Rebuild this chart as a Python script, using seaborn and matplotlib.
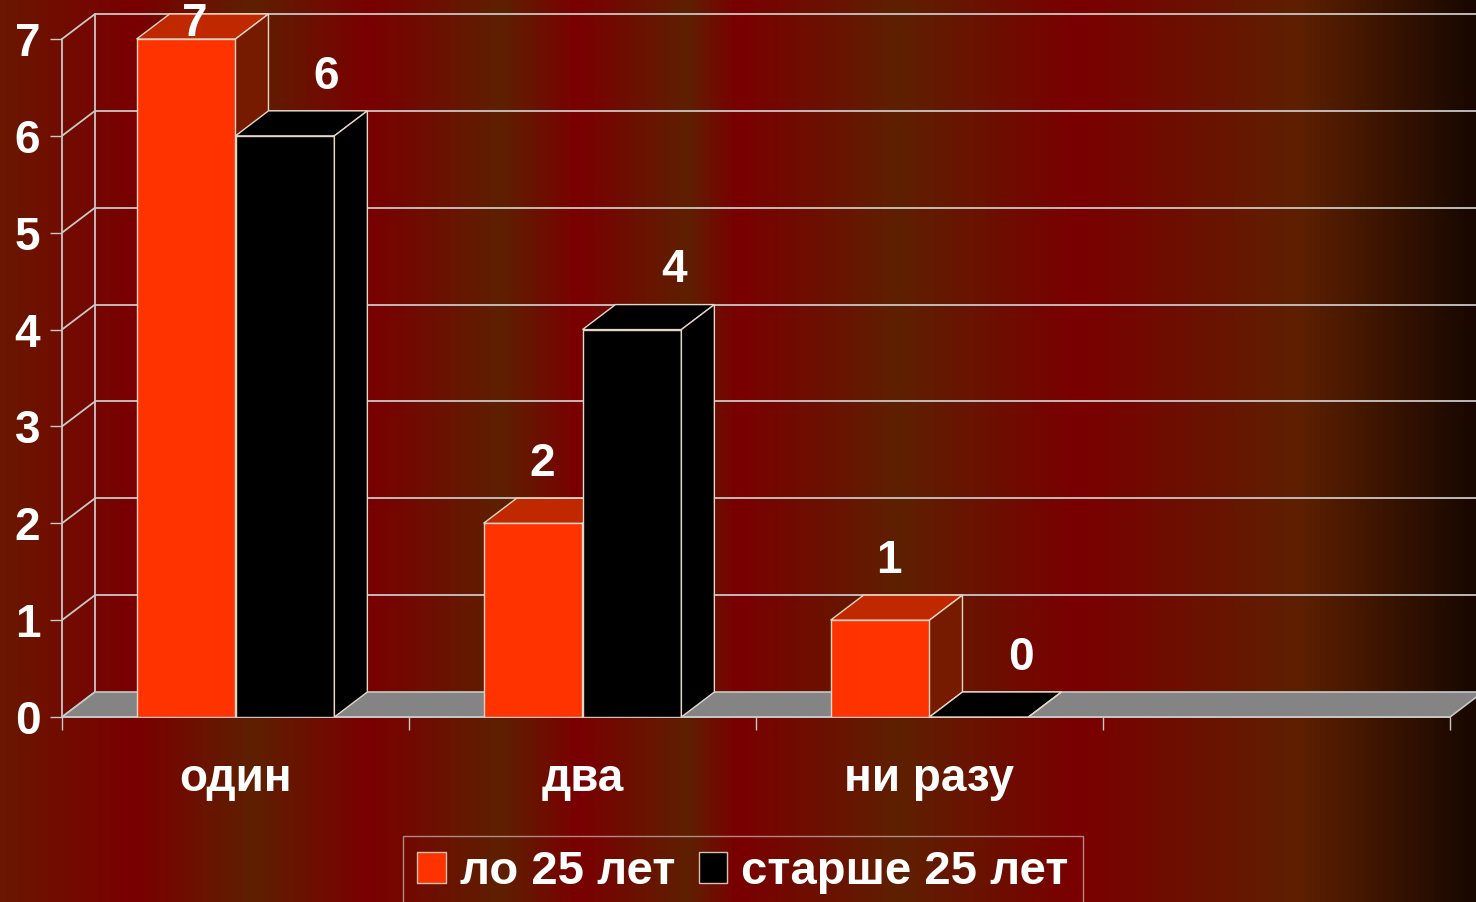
import numpy as np
import pandas as pd
import matplotlib
matplotlib.use("Agg")
import matplotlib.pyplot as plt
import seaborn as sns
from matplotlib.colors import LinearSegmentedColormap, to_hex
from matplotlib.patches import Polygon, Patch

# data
categories = ["один", "два", "ни разу"]
slots = categories + [""]          # fourth, empty slot on the axis
series = ["ло 25 лет", "старше 25 лет"]
young = [7, 2, 1]
old = [6, 4, 0]
y_ticks = [0, 1, 2, 3, 4, 5, 6, 7]

front_colors = {series[0]: "#ff3300", series[1]: "#000000"}
top_colors = {series[0]: "#c02800", series[1]: "#000000"}
side_colors = {series[0]: "#761a00", series[1]: "#000000"}
label_dx = {series[0]: 0.025, series[1]: 0.12}

df = pd.DataFrame({
    "cat": categories * 2,
    "series": [series[0]] * len(young) + [series[1]] * len(old),
    "val": young + old,
})

sns.set_theme(style="white")
plt.rcParams["font.family"] = ["Liberation Sans", "DejaVu Sans"]
plt.rcParams["font.weight"] = "bold"

W, H = 1476, 902
fig = plt.figure(figsize=(W / 100, H / 100), dpi=100)

# striped red/brown background
bg = fig.add_axes([0, 0, 1, 1], zorder=-10)
stops = [(0, "#6a1600"), (133, "#7a0000"), (250, "#5e2000"), (367, "#7a0000"),
         (500, "#5e2000"), (577, "#7a0000"), (688, "#5e2000"), (737, "#7a0000"),
         (900, "#5e2000"), (1080, "#7a0000"), (1300, "#5e2000"), (1476, "#180800")]
cmap = LinearSegmentedColormap.from_list("bg", [(p / W, c) for p, c in stops])
bg.imshow(np.linspace(0, 1, W)[None, :], aspect="auto", cmap=cmap, extent=[0, 1, 0, 1])
bg.axis("off")

# front plane of the pseudo-3D plot
ax = fig.add_axes([62 / W, 185 / H, 1388 / W, 678 / H])
ax.set_facecolor("none")

line_c = "#c8c8c8"
edge_c = "#e6d6c6"
dx, dy = 0.095, 0.258   # depth offset in data units

sns.barplot(data=df, x="cat", y="val", hue="series", order=slots, hue_order=series,
            palette=front_colors, width=0.57, saturation=1, edgecolor=edge_c,
            linewidth=1, legend=False, ax=ax)
ax.set_xlim(-0.5, 3.5)
ax.set_ylim(0, 7)

# back wall grid, left wall edges, floor
for t in y_ticks[1:]:
    ax.plot([-0.5 + dx, 3.5 + dx], [t + dy, t + dy], color=line_c, lw=1.3, zorder=0.5, clip_on=False)
for t in y_ticks:
    ax.plot([-0.5, -0.5 + dx], [t, t + dy], color=line_c, lw=1.3, zorder=0.5, clip_on=False)
ax.plot([-0.5 + dx, -0.5 + dx], [dy, y_ticks[-1] + dy], color=line_c, lw=1.3, zorder=0.5, clip_on=False)
floor = Polygon([(-0.5, 0), (3.5, 0), (3.5 + dx, dy), (-0.5 + dx, dy)], closed=True,
                facecolor="#848484", edgecolor=line_c, lw=1.2, zorder=1, clip_on=False)
ax.add_patch(floor)

# side and top faces of every bar
bars = sorted(ax.patches[:-1], key=lambda p: p.get_x())
for k, p in enumerate(bars):
    s = series[1] if to_hex(p.get_facecolor()) == "#000000" else series[0]
    x0, w, h = p.get_x(), p.get_width(), p.get_height()
    z = 3 + k
    p.set_zorder(z)
    top = Polygon([(x0, h), (x0 + w, h), (x0 + w + dx, h + dy), (x0 + dx, h + dy)], closed=True,
                  facecolor=top_colors[s], edgecolor=edge_c, lw=1, zorder=z + 0.1, clip_on=False)
    side = Polygon([(x0 + w, 0), (x0 + w + dx, dy), (x0 + w + dx, h + dy), (x0 + w, h)], closed=True,
                   facecolor=side_colors[s], edgecolor=edge_c, lw=1, zorder=z + 0.2, clip_on=False)
    ax.add_patch(top)
    ax.add_patch(side)
    ax.text(x0 + w / 2 + label_dx[s], min(h + 0.61, 7.16), f"{int(h)}", ha="center", va="center",
            color="white", fontsize=33, fontweight="bold", zorder=50, clip_on=False)

# axes styling
for side_name in ["top", "right"]:
    ax.spines[side_name].set_visible(False)
for side_name in ["left", "bottom"]:
    ax.spines[side_name].set_color(line_c)
    ax.spines[side_name].set_linewidth(1.3)
    ax.spines[side_name].set_zorder(2)

ax.set_yticks(y_ticks)
ax.tick_params(axis="y", length=8.6, width=1, color=line_c, labelcolor="white", labelsize=33, pad=7, left=True)
ax.set_xticks(range(len(slots)), labels=slots)
ax.set_xticks([-0.5, 0.5, 1.5, 2.5, 3.5], minor=True)
ax.tick_params(axis="x", which="major", length=0, labelcolor="white", labelsize=33, pad=29)
ax.tick_params(axis="x", which="minor", length=9.4, width=1, color=line_c, bottom=True)
ax.set_xlabel("")
ax.set_ylabel("")
ax.grid(False)

handles = [Patch(facecolor=front_colors[s], edgecolor="#d8c0b0", lw=1) for s in series]
leg = fig.legend(handles, series, loc="upper center", bbox_to_anchor=(743 / W, 66 / H), ncol=2,
                 frameon=True, fancybox=False, fontsize=34, handlelength=0.6, handleheight=0.65,
                 handletextpad=0.3, columnspacing=0.5, borderpad=0.3, borderaxespad=0,
                 labelcolor="white")
leg.get_frame().set_facecolor("none")
leg.get_frame().set_edgecolor("#c0a8a8")
leg.get_frame().set_linewidth(1)

fig.savefig("out.png", dpi=100)
